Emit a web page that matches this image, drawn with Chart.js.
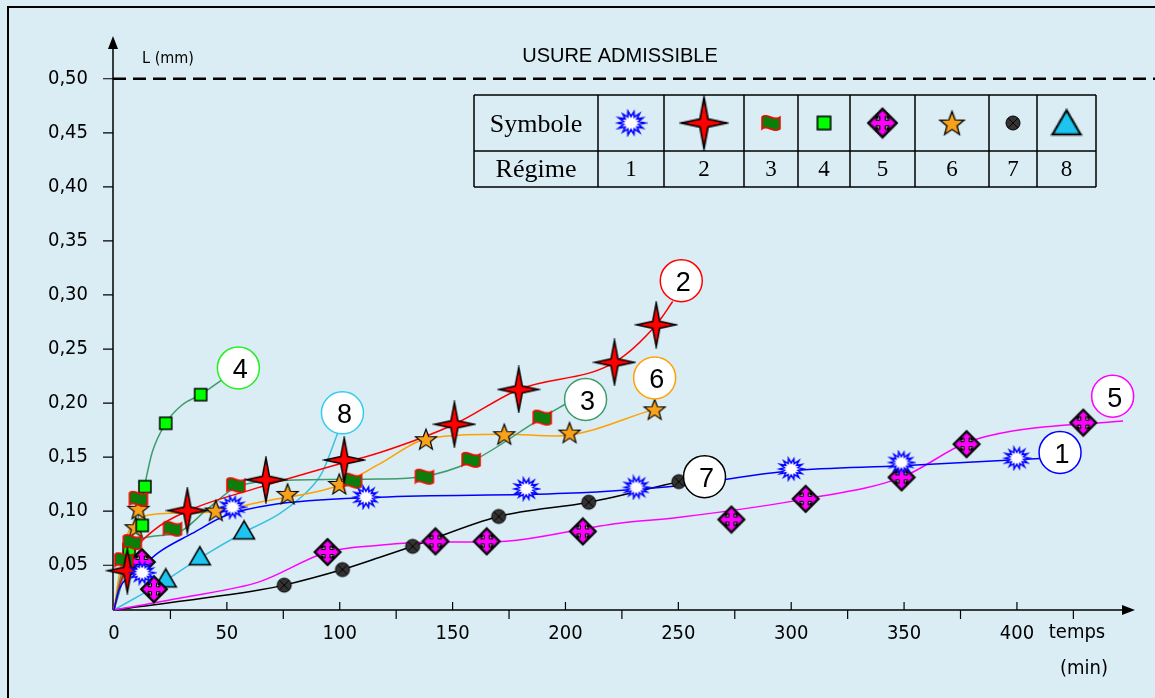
<!DOCTYPE html>
<html>
<head>
<meta charset="utf-8">
<script src="https://cdn.jsdelivr.net/npm/chart.js@4.4.1/dist/chart.umd.min.js"></script>
<style>
  html, body { margin: 0; padding: 0; background: #dbedf4; }
  canvas { display: block; }
</style>
</head>
<body>
<canvas id="wearChart" width="1155" height="698"></canvas>
<script>
// axis ticks
const xMajor = [0, 50, 100, 150, 200, 250, 300, 350, 400];
const xMinor = [25, 75, 125, 175, 225, 275, 325, 375, 425];
const yTicks = [0.05, 0.1, 0.15, 0.2, 0.25, 0.3, 0.35, 0.4, 0.45, 0.5];
const yLabels = ["0,05", "0,10", "0,15", "0,20", "0,25", "0,30", "0,35", "0,40", "0,45", "0,50"];
const limitValue = 0.5;
const regimeNames = ["1", "2", "3", "4", "5", "6", "7", "8"];

// measured points (temps min, usure mm) for each regime
const r1Marks = [[12.5, 0.043], [52.5, 0.1037], [111.6, 0.1129], [182.6, 0.1206], [231.4, 0.122], [300, 0.139], [348.8, 0.145], [399.9, 0.149]];
const r2Marks = [[5.9, 0.045], [32.5, 0.1006], [67.3, 0.1291], [102, 0.1473], [150.8, 0.1804], [179.3, 0.2126], [221.7, 0.2377], [240.2, 0.2724]];
const r3Marks = [[4.4, 0.0546], [8.1, 0.0714], [10.8, 0.1114], [25.9, 0.0838], [54, 0.124], [105.7, 0.1282], [137.5, 0.1319], [158.2, 0.1475], [189.7, 0.1865]];
const r4Marks = [[6.7, 0.0646], [12.5, 0.0868], [13.7, 0.1227], [22.9, 0.1813], [38.4, 0.2078]];
const r5Marks = [[12.3, 0.053], [17.7, 0.0278], [94.6, 0.0622], [142.4, 0.0721], [165.1, 0.0721], [207.7, 0.0813], [273.5, 0.0923], [306.4, 0.1114], [348.9, 0.1313], [377.7, 0.162], [429.4, 0.1819]];
const r6Marks = [[9.6, 0.0852], [10.8, 0.1022], [45.1, 0.1006], [76.9, 0.116], [99.8, 0.1252], [138.2, 0.1666], [172.9, 0.1712], [201.8, 0.1727], [239.5, 0.1942]];
const r7Marks = [[75.4, 0.0316], [101.2, 0.046], [132.3, 0.0675], [170.4, 0.0951], [210.3, 0.1083], [250.2, 0.1273]];
const r8Marks = [[22.9, 0.0378], [38, 0.0583], [57.6, 0.0822]];

// trend curves as drawn on the original
const r1Curve = [[0, 0.0086], [2.2, 0.027], [6.7, 0.04], [13, 0.05], [20, 0.0622], [34.6, 0.0794], [49.5, 0.096], [70, 0.106], [117.5, 0.1129], [200, 0.1165], [250, 0.1236], [300, 0.1374], [349, 0.142], [412.4, 0.149]];
const r2Curve = [[0, 0.0086], [3, 0.035], [8, 0.06], [18, 0.083], [33, 0.1006], [64.3, 0.122], [102, 0.145], [117.5, 0.154], [150.8, 0.1804], [179.3, 0.2126], [221.7, 0.2377], [240.2, 0.2724], [247.5, 0.294]];
const r3Curve = [[0, 0.0086], [3, 0.04], [7, 0.062], [12.4, 0.0748], [27.4, 0.0794], [42, 0.103], [54, 0.122], [75, 0.1285], [117.5, 0.1298], [136.6, 0.1319], [157.4, 0.145], [189.7, 0.1865], [201, 0.2003]];
const r4Curve = [[0, 0.0086], [3, 0.03], [6.7, 0.066], [11.8, 0.103], [14, 0.128], [17, 0.155], [22.9, 0.1813], [30, 0.198], [38.4, 0.2078], [48, 0.2218]];
const r5Curve = [[0, 0.0086], [30, 0.02], [64.3, 0.0346], [94.6, 0.0622], [117.5, 0.0684], [142.4, 0.0714], [165.1, 0.0714], [223.9, 0.0889], [250.6, 0.0944], [306.4, 0.1114], [348.9, 0.1313], [377.7, 0.1635], [398, 0.1742], [447, 0.1834]];
const r6Curve = [[0, 0.0086], [3, 0.05], [6.7, 0.0822], [20, 0.0976], [42, 0.099], [64.3, 0.1083], [99.8, 0.124], [117.5, 0.1436], [138.2, 0.1666], [172.9, 0.1712], [195.9, 0.1696], [239.5, 0.1942]];
const r7Curve = [[0, 0.0086], [64.3, 0.027], [75.4, 0.0316], [101.2, 0.046], [117.5, 0.0571], [132.3, 0.0675], [170.4, 0.0951], [210.3, 0.1083], [250.2, 0.1273], [256, 0.13]];
const r8Curve = [[0, 0.0086], [22.9, 0.036], [38, 0.0565], [57.6, 0.0805], [73.2, 0.0976], [85, 0.117], [92, 0.135], [99, 0.1717]];

// where the numbered circles sit (data units)
const tagAt = [[419.1, 0.1543], [251.3, 0.3132], [208.9, 0.2034], [55.1, 0.2325], [442.4, 0.2064], [239.5, 0.2233], [261.6, 0.1319], [101.2, 0.191]];

const lineColors = ["#0000ff", "#ff0000", "#3c9c6c", "#3c9c6c", "#ff00ff", "#ffa000", "#000000", "#38c2e2"];
const tagColors = ["#0000ff", "#ff0000", "#3c9c6c", "#22ee22", "#ff00ff", "#ffa000", "#000000", "#33ccf0"];

const allMarks = [r1Marks, r2Marks, r3Marks, r4Marks, r5Marks, r6Marks, r7Marks, r8Marks];
const allCurves = [r1Curve, r2Curve, r3Curve, r4Curve, r5Curve, r6Curve, r7Curve, r8Curve];

// marker pictures
function mk(w, h, draw) {
  const c = document.createElement("canvas");
  c.width = w; c.height = h;
  const g = c.getContext("2d");
  g.translate(w / 2, h / 2);
  g.lineJoin = "miter";
  draw(g);
  return c;
}
function poly(g, pts) {
  g.beginPath();
  pts.forEach((p, i) => (i ? g.lineTo(p[0], p[1]) : g.moveTo(p[0], p[1])));
  g.closePath();
}

const burst = mk(30, 26, g => {
  const n = 14, pts = [];
  for (let i = 0; i < 2 * n; i++) {
    const a = i * Math.PI / n, r = i % 2 ? 0.55 : (i % 4 ? 0.95 : 1);
    pts.push([Math.cos(a) * 12.5 * r, Math.sin(a) * 11 * r]);
  }
  poly(g, pts);
  g.fillStyle = "#fff"; g.fill();
  g.strokeStyle = "#0000ff"; g.lineWidth = 1.5; g.stroke();
});
const spark = mk(44, 48, g => {
  poly(g, [[0, -22], [3.5, -3.5], [20, 0], [3.5, 3.5], [0, 22], [-3.5, 3.5], [-20, 0], [-3.5, -3.5]]);
  g.fillStyle = "#ff0000"; g.fill();
  g.strokeStyle = "#000"; g.lineWidth = 1.5; g.stroke();
});
const flag = mk(24, 22, g => {
  g.beginPath();
  g.moveTo(-9, -6);
  g.bezierCurveTo(-4, -11, 3, -1, 9, -6);
  g.lineTo(9, 6);
  g.bezierCurveTo(3, 11, -4, 1, -9, 6);
  g.closePath();
  g.fillStyle = "#0a7d0a"; g.fill();
  g.strokeStyle = "#ff0000"; g.lineWidth = 1.5; g.stroke();
});
const square = mk(16, 16, g => {
  g.fillStyle = "#00ff00"; g.fillRect(-6, -6, 12, 12);
  g.strokeStyle = "#000"; g.lineWidth = 1.5; g.strokeRect(-6, -6, 12, 12);
});
const cross = mk(30, 30, g => {
  poly(g, [[0, -13], [13, 0], [0, 13], [-13, 0]]);
  g.fillStyle = "#fff"; g.fill();
  g.strokeStyle = "#000"; g.lineWidth = 2; g.stroke();
  g.fillStyle = "#000";
  [[1, 1], [1, -1], [-1, 1], [-1, -1]].forEach(([sx, sy]) => {
    g.fillRect(sx * 5 - 1.5, sy * 5 - 1.5, 3, 3);
  });
  const L = 11.5, a = 5.5, d = 6, w = 2.5;
  poly(g, [[0, -L], [a, -d], [w, -d], [w, -w], [d, -w], [d, -a], [L, 0], [d, a], [d, w], [w, w], [w, d], [a, d],
           [0, L], [-a, d], [-w, d], [-w, w], [-d, w], [-d, a], [-L, 0], [-d, -a], [-d, -w], [-w, -w], [-w, -d], [-a, -d]]);
  g.fillStyle = "#ff00ff"; g.fill();
  g.strokeStyle = "#000"; g.lineWidth = 1; g.stroke();
});
const star5 = mk(26, 26, g => {
  const pts = [];
  for (let i = 0; i < 10; i++) {
    const a = -Math.PI / 2 + i * Math.PI / 5, r = i % 2 ? 4.6 : 11;
    pts.push([Math.cos(a) * r, Math.sin(a) * r + 1]);
  }
  poly(g, pts);
  g.fillStyle = "#f8a21c"; g.fill();
  g.strokeStyle = "#000"; g.lineWidth = 1.2; g.stroke();
});
const dot = mk(18, 18, g => {
  g.beginPath(); g.arc(0, 0, 7, 0, Math.PI * 2);
  g.fillStyle = "#333"; g.fill();
  g.strokeStyle = "#000"; g.lineWidth = 1; g.stroke();
  g.beginPath(); g.moveTo(-4.5, -4.5); g.lineTo(4.5, 4.5); g.moveTo(4.5, -4.5); g.lineTo(-4.5, 4.5);
  g.strokeStyle = "#000"; g.stroke();
});
const tri = mk(24, 22, g => {
  poly(g, [[0, -9.5], [10.5, 8.5], [-10.5, 8.5]]);
  g.fillStyle = "#1cc4ee"; g.fill();
  g.strokeStyle = "#000"; g.lineWidth = 1.5; g.stroke();
});
const symbols = [burst, spark, flag, square, cross, star5, dot, tri];
const tableScale = [1.1, 1.15, 1.0, 1.1, 1.1, 1.15, 1.0, 1.35];

const toXY = arr => arr.map(([x, y]) => ({ x, y }));
const datasets = [];
allMarks.forEach((m, i) => {
  datasets.push({
    label: "Régime " + regimeNames[i],
    data: toXY(m),
    pointStyle: symbols[i],
    pointRadius: 8,
    showLine: false,
    clip: false,
    order: 0
  });
});
allCurves.forEach((cv, i) => {
  datasets.push({
    label: "courbe " + regimeNames[i],
    data: toXY(cv),
    showLine: true,
    borderColor: lineColors[i],
    borderWidth: 1.5,
    pointRadius: 0,
    cubicInterpolationMode: "monotone",
    clip: false,
    order: 1
  });
});

const sansC = '"DejaVu Sans Condensed", "DejaVu Sans", sans-serif';
const arial = '"Liberation Sans", Arial, sans-serif';
const serif = '"Liberation Serif", "Times New Roman", serif';
const axisFont = { family: sansC, size: 20 };

const decor = {
  id: "decor",
  beforeDraw(c) {
    const g = c.ctx;
    g.save();
    g.fillStyle = "#dbedf4";
    g.fillRect(0, 0, c.width, c.height);
    g.strokeStyle = "#000"; g.lineWidth = 2;
    g.strokeRect(8, 7, c.width + 10, c.height + 10);
    g.restore();
  },
  beforeDatasetsDraw(c) {
    const g = c.ctx, a = c.chartArea, xs = c.scales.x, ys = c.scales.y;
    const x0 = a.left - 1, y0 = a.bottom;
    g.save();
    g.strokeStyle = "#000"; g.fillStyle = "#000"; g.lineWidth = 1.5;
    g.beginPath();
    g.moveTo(x0, y0); g.lineTo(x0, a.top + 8);
    g.moveTo(x0, y0); g.lineTo(a.right - 8, y0);
    g.stroke();
    poly(g, [[x0, a.top - 2], [x0 - 5, a.top + 11], [x0 + 5, a.top + 11]]); g.fill();
    poly(g, [[a.right, y0], [a.right - 13, y0 - 5], [a.right - 13, y0 + 5]]); g.fill();
    g.lineWidth = 1.2;
    g.beginPath();
    yTicks.forEach(v => { const y = ys.getPixelForValue(v); g.moveTo(x0 - 10, y); g.lineTo(x0, y); });
    xMajor.slice(1).forEach(v => { const x = xs.getPixelForValue(v); g.moveTo(x, y0 - 8); g.lineTo(x, y0); });
    xMinor.forEach(v => { const x = xs.getPixelForValue(v); g.moveTo(x, y0); g.lineTo(x, y0 + 9); });
    g.stroke();
    const yl = ys.getPixelForValue(limitValue);
    g.setLineDash([13, 7]); g.lineWidth = 2.5;
    g.beginPath(); g.moveTo(x0, yl); g.lineTo(c.width, yl); g.stroke();
    g.restore();
  },
  afterDatasetsDraw(c) {
    const g = c.ctx, xs = c.scales.x, ys = c.scales.y;
    g.save();
    // numbered circles
    tagAt.forEach((p, i) => {
      const x = xs.getPixelForValue(p[0]), y = ys.getPixelForValue(p[1]);
      g.beginPath(); g.arc(x, y, 21, 0, Math.PI * 2);
      g.fillStyle = "#fff"; g.fill();
      g.strokeStyle = tagColors[i]; g.lineWidth = 1.5; g.stroke();
      g.fillStyle = "#000"; g.font = "27px " + arial;
      g.textAlign = "center"; g.textBaseline = "middle";
      g.fillText(regimeNames[i], x + 2, y + 3);
    });
    // legend table
    const cols = [474, 598, 664, 744, 798, 850, 915, 989, 1037, 1096];
    const rows = [95, 151, 187];
    g.fillStyle = "#dbedf4";
    g.fillRect(cols[0], rows[0], cols[cols.length - 1] - cols[0], rows[2] - rows[0]);
    g.strokeStyle = "#000"; g.lineWidth = 1.5;
    g.beginPath();
    rows.forEach(y => { g.moveTo(cols[0], y); g.lineTo(cols[cols.length - 1], y); });
    cols.forEach(x => { g.moveTo(x, rows[0]); g.lineTo(x, rows[2]); });
    g.stroke();
    g.fillStyle = "#000"; g.textAlign = "center"; g.textBaseline = "middle";
    g.font = "26px " + serif;
    g.fillText("Symbole", (cols[0] + cols[1]) / 2, (rows[0] + rows[1]) / 2 + 2);
    g.fillText("Régime", (cols[0] + cols[1]) / 2, (rows[1] + rows[2]) / 2 + 1);
    g.font = "23px " + serif;
    regimeNames.forEach((n, i) => {
      const cx = (cols[i + 1] + cols[i + 2]) / 2;
      g.fillText(n, cx, (rows[1] + rows[2]) / 2 + 1);
      const im = symbols[i], s = tableScale[i];
      g.drawImage(im, cx - im.width * s / 2, (rows[0] + rows[1]) / 2 - im.height * s / 2, im.width * s, im.height * s);
    });
    // titles
    g.font = "20px " + arial;
    g.fillText("USURE ADMISSIBLE", 620, 56);
    g.font = "16px " + sansC;
    g.fillText("L (mm)", 168, 59);
    g.font = "20px " + sansC;
    g.fillText("temps", 1077, 633);
    g.fillText("(min)", 1084, 669);
    g.restore();
  }
};

new Chart(document.getElementById("wearChart"), {
  type: "scatter",
  data: { datasets: datasets },
  options: {
    responsive: false,
    animation: false,
    devicePixelRatio: 1,
    layout: { padding: { top: 35, right: 20, left: 0, bottom: 0 } },
    plugins: { legend: { display: false }, tooltip: { enabled: false } },
    scales: {
      x: {
        type: "linear", min: 0, max: 452.3,
        afterBuildTicks: s => { s.ticks = xMajor.map(v => ({ value: v })); },
        afterFit: s => { s.height = 88; },
        grid: { display: false, drawTicks: false },
        border: { display: false },
        ticks: { color: "#000", font: axisFont, padding: 12, maxRotation: 0, autoSkip: false, callback: v => String(v) }
      },
      y: {
        type: "linear", min: 0.0086, max: 0.5377,
        afterBuildTicks: s => { s.ticks = yTicks.map(v => ({ value: v })); },
        afterFit: s => { s.width = 114; },
        grid: { display: false, drawTicks: false },
        border: { display: false },
        ticks: { color: "#000", font: axisFont, padding: 26, autoSkip: false, callback: (v, i) => yLabels[i] }
      }
    }
  },
  plugins: [decor]
});
</script>
</body>
</html>
